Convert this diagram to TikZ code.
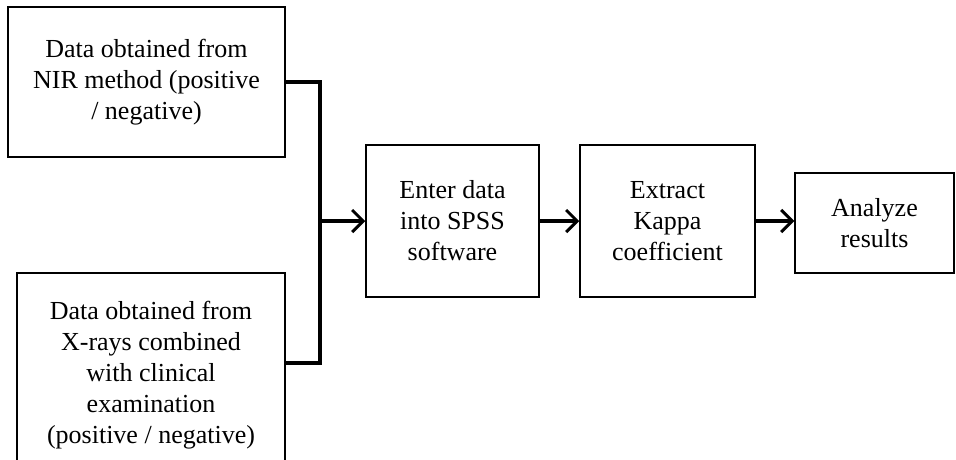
\documentclass[tikz,border=0pt]{standalone}
\usepackage{fontspec}
\setmainfont{Liberation Serif}
\usetikzlibrary{arrows.meta}
\begin{document}
\begin{tikzpicture}[x=1pt,y=-1pt,
  box/.style={draw, line width=1.5pt, align=center, inner sep=0pt,
    font=\fontsize{26}{31}\selectfont},
  conn/.style={line width=3.2pt},
  arr/.style={conn, -{Straight Barb[length=11pt,width=22pt,line width=3pt]}}]
\useasboundingbox (0,0) rectangle (956,459);
\node[box, minimum width=277, minimum height=150] (nir) at (146.5,82)
  {Data obtained from\\NIR method (positive\\/ negative)};
\node[box, minimum width=268, minimum height=205] (xray) at (151,375.5)
  {Data obtained from\\X-rays combined\\with clinical\\examination\\(positive / negative)};
\node[box, minimum width=173, minimum height=152] (spss) at (452.5,221)
  {Enter data\\into SPSS\\software};
\node[box, minimum width=175, minimum height=152] (kappa) at (667.5,221)
  {Extract\\Kappa\\coefficient};
\node[box, minimum width=159, minimum height=100] (res) at (874.5,223)
  {Analyze\\results};
\coordinate (bus) at (320,221);
\draw[conn] (nir.east) -| (bus);
\draw[conn] (xray.east |- 0,363) -| (bus);
\draw[arr] (bus) -- (spss.west |- bus);
\draw[arr] (spss.east |- bus) -- (kappa.west |- bus);
\draw[arr] (kappa.east |- bus) -- (res.west |- bus);
\end{tikzpicture}
\end{document}
